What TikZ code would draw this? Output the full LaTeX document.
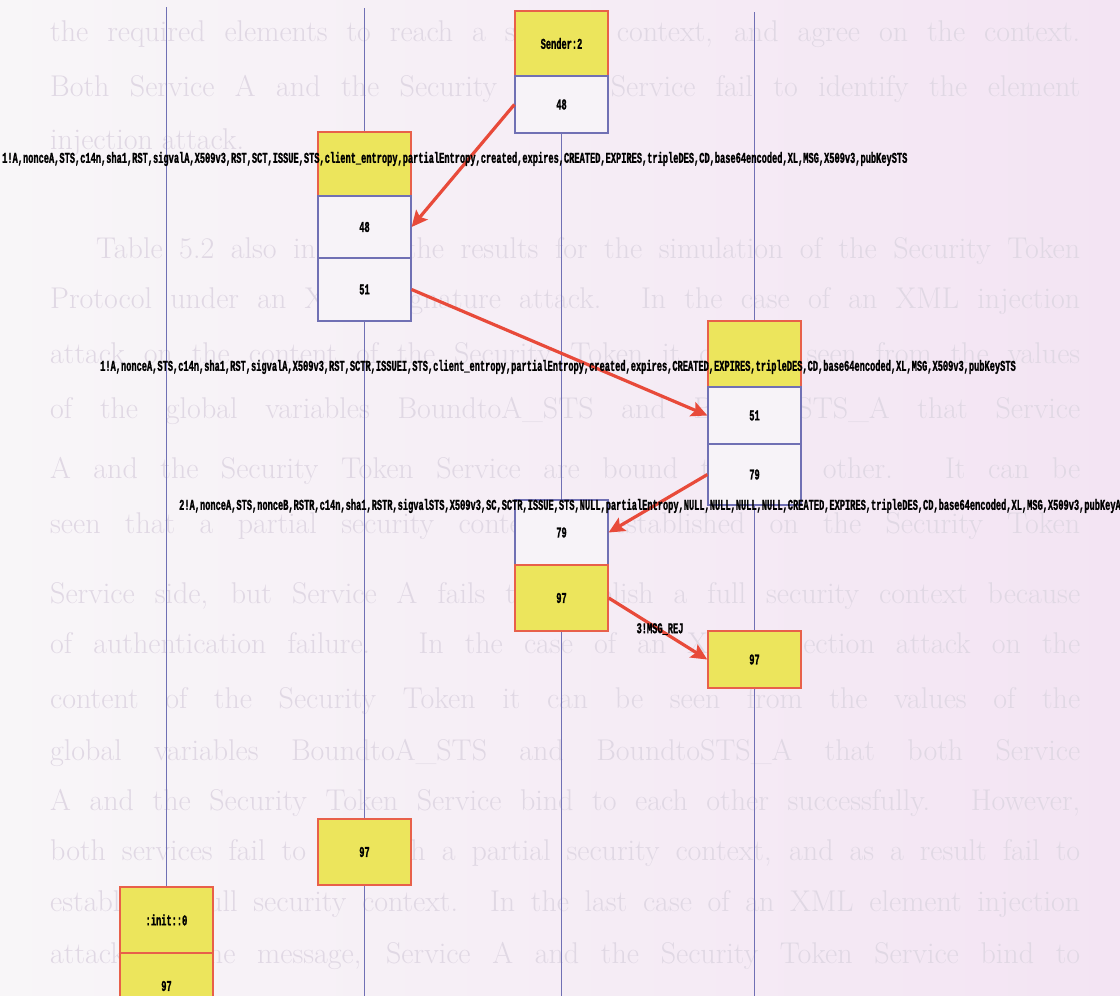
\documentclass[tikz,border=0pt]{standalone}
\usepackage{fontspec}
\usetikzlibrary{arrows.meta}
\newfontfamily\lblfam{Liberation Mono}[FakeStretch=0.578,FakeBold=1.2]
\newcommand{\lblf}{\lblfam\bfseries\fontsize{15}{15}\selectfont}
\definecolor{lifec}{RGB}{112,112,180}
\definecolor{boxred}{RGB}{232,96,74}
\definecolor{boxyel}{RGB}{236,229,92}
\definecolor{boxwht}{RGB}{247,243,248}
\definecolor{arrred}{RGB}{232,74,58}
\definecolor{ghostc}{RGB}{224,216,228}
\definecolor{bgl}{RGB}{248,246,248}
\definecolor{bgr}{RGB}{243,228,243}
\pgfdeclarelayer{bg}
\pgfsetlayers{bg,main}
\newcommand{\ghostline}[4]{\node[ghost] (#1) at (#2,#3) {#4};}
\begin{document}
\begin{tikzpicture}[x=1pt,y=-1pt,
  life/.style={draw=lifec,line width=1.1pt},
  ybox/.style={draw=boxred,fill=boxyel,line width=1.5pt,minimum width=93pt,inner sep=0pt,font=\lblf},
  wbox/.style={draw=lifec,fill=boxwht,line width=1.2pt,minimum width=93pt,inner sep=0pt,font=\lblf},
  msg/.style={draw=arrred,line width=3.2pt,-{Stealth[length=16pt,width=15pt,inset=3pt]}},
  lab/.style={font=\lblf,inner sep=0pt,anchor=west},
  ghost/.style={text=ghostc,font=\fontsize{30}{36}\selectfont,inner sep=0pt,anchor=base west}]
\useasboundingbox (0,0) rectangle (1120,996);
\begin{pgfonlayer}{bg}
\shade[left color=bgl,right color=bgr] (0,0) rectangle (1120,996);
\ghostline{g1}{50}{41}{\makebox[1030pt][s]{the required elements to reach a security context, and agree on the context.}}
\ghostline{g2}{50}{96}{\makebox[1030pt][s]{Both Service A and the Security Token Service fail to identify the element}}
\ghostline{g3}{50}{149}{injection attack.}
\ghostline{g4}{96}{258}{\makebox[984pt][s]{Table 5.2 also includes the results for the simulation of the Security Token}}
\ghostline{g5}{50}{308}{\makebox[1030pt][s]{Protocol under an XML Signature attack. In the case of an XML injection}}
\ghostline{g6}{50}{363}{\makebox[1030pt][s]{attack on the content of the Security Token it can be seen from the values}}
\ghostline{g7}{50}{418}{\makebox[1030pt][s]{of the global variables BoundtoA\_STS and BoundtoSTS\_A that Service}}
\ghostline{g8}{50}{478}{\makebox[1030pt][s]{A and the Security Token Service are bound to each other. It can be}}
\ghostline{g9}{50}{533}{\makebox[1030pt][s]{seen that a partial security context is established on the Security Token}}
\ghostline{g10}{50}{603}{\makebox[1030pt][s]{Service side, but Service A fails to establish a full security context because}}
\ghostline{g11}{50}{653}{\makebox[1030pt][s]{of authentication failure. In the case of an XML injection attack on the}}
\ghostline{g12}{50}{708}{\makebox[1030pt][s]{content of the Security Token it can be seen from the values of the}}
\ghostline{g13}{50}{760}{\makebox[1030pt][s]{global variables BoundtoA\_STS and BoundtoSTS\_A that both Service}}
\ghostline{g14}{50}{810}{\makebox[1030pt][s]{A and the Security Token Service bind to each other successfully. However,}}
\ghostline{g15}{50}{860}{\makebox[1030pt][s]{both services fail to establish a partial security context, and as a result fail to}}
\ghostline{g16}{50}{911}{\makebox[1030pt][s]{establish a full security context. In the last case of an XML element injection}}
\ghostline{g17}{50}{963}{\makebox[1030pt][s]{attack on the message, Service A and the Security Token Service bind to}}
\end{pgfonlayer}

% column A
\node[ybox,minimum height=66pt] (Ainit) at (166.5,920) {:init::0};
\node[ybox,minimum height=66pt] (A97) at (166.5,986) {97};
% column B
\node[ybox,minimum height=64pt] (Bhead) at (364.5,164) {};
\node[wbox,minimum height=62pt] (B48) at (364.5,227) {48};
\node[wbox,minimum height=63pt] (B51) at (364.5,289.5) {51};
\node[ybox,minimum height=66pt] (B97) at (364.5,852) {97};
% column C
\node[ybox,minimum height=65pt] (Chead) at (561.5,43.5) {Sender:2};
\node[wbox,minimum height=57pt] (C48) at (561.5,104.5) {48};
\node[wbox,minimum height=65pt] (C79) at (561.5,532.5) {79};
\node[ybox,minimum height=66pt] (C97) at (561.5,598) {97};
% column D
\node[ybox,minimum height=66pt] (Dhead) at (754.5,354) {};
\node[wbox,minimum height=57pt] (D51) at (754.5,415.5) {51};
\node[wbox,minimum height=61pt] (D79) at (754.5,474.5) {79};
\node[ybox,minimum height=57pt] (D97) at (754.5,659.5) {97};

\coordinate (Atop) at (166.5,7);
\coordinate (Btop) at (364.5,8);
\coordinate (Bbot) at (364.5,996);
\coordinate (Cbot) at (561.5,996);
\coordinate (Dtop) at (754.5,12);
\coordinate (Dbot) at (754.5,996);
\begin{pgfonlayer}{bg}
\draw[life] (Atop) -- (Ainit.north);
\draw[life] (Btop) -- (Bhead.north);
\draw[life] (B51.south) -- (B97.north);
\draw[life] (B97.south) -- (Bbot);
\draw[life] (C48.south) -- (C79.north);
\draw[life] (C97.south) -- (Cbot);
\draw[life] (Dtop) -- (Dhead.north);
\draw[life] (D79.south) -- (D97.north);
\draw[life] (D97.south) -- (Dbot);
\end{pgfonlayer}

% messages
\draw[msg] (C48.west) -- (B48.east);
\draw[msg] (B51.east) -- (D51.west);
\draw[msg] (D79.west) -- (C79.east);
\draw[msg] (C97.east) -- (D97.west);

% labels
\node[lab] (L1) at (2,159) {1!A,nonceA,STS,c14n,sha1,RST,sigvalA,X509v3,RST,SCT,ISSUE,STS,client\_entropy,partialEntropy,created,expires,CREATED,EXPIRES,tripleDES,CD,base64encoded,XL,MSG,X509v3,pubKeySTS};
\node[lab] (L2) at (100,367) {1!A,nonceA,STS,c14n,sha1,RST,sigvalA,X509v3,RST,SCTR,ISSUEI,STS,client\_entropy,partialEntropy,created,expires,CREATED,EXPIRES,tripleDES,CD,base64encoded,XL,MSG,X509v3,pubKeySTS};
\node[lab] (L3) at (179,506) {2!A,nonceA,STS,nonceB,RSTR,c14n,sha1,RSTR,sigvalSTS,X509v3,SC,SCTR,ISSUE,STS,NULL,partialEntropy,NULL,NULL,NULL,NULL,CREATED,EXPIRES,tripleDES,CD,base64encoded,XL,MSG,X509v3,pubKeyA};
\node[lab,anchor=center] (L4) at (660,629) {3!MSG\_REJ};
\end{tikzpicture}
\end{document}
